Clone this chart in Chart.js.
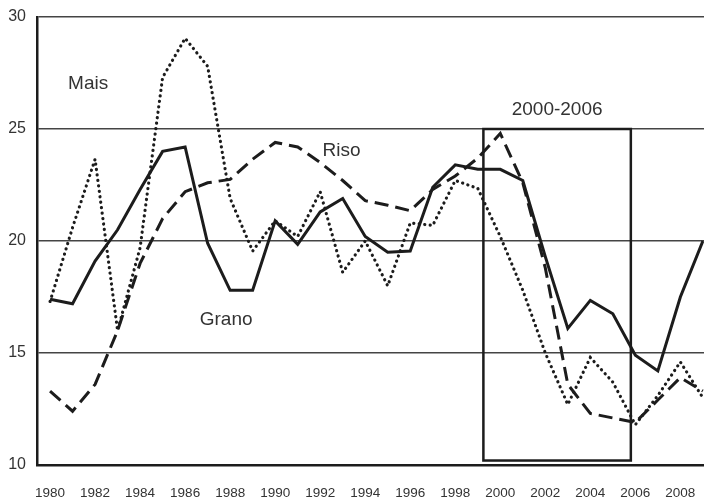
<!DOCTYPE html>
<html>
<head>
<meta charset="utf-8">
<script src="https://cdn.jsdelivr.net/npm/chart.js@4.4.0/dist/chart.umd.min.js"></script>
<style>
  html, body { margin: 0; padding: 0; background: #fff; }
  #wrap { width: 704px; height: 499px; }
</style>
</head>
<body>
<div id="wrap"><canvas id="prezzi"></canvas></div>
<script>
var years = [1980, 1981, 1982, 1983, 1984, 1985, 1986, 1987, 1988, 1989,
             1990, 1991, 1992, 1993, 1994, 1995, 1996, 1997, 1998, 1999,
             2000, 2001, 2002, 2003, 2004, 2005, 2006, 2007, 2008, 2009];
var grano = [17.4, 17.2, 19.1, 20.5, 22.3, 24.0, 24.2, 19.9, 17.8, 17.8,
             20.9, 19.85, 21.3, 21.9, 20.2, 19.5, 19.55, 22.4, 23.4, 23.2,
             23.2, 22.7, 19.3, 16.1, 17.35, 16.75, 14.9, 14.2, 17.5, 20.0];
var riso  = [13.3, 12.4, 13.6, 16.0, 19.0, 21.0, 22.2, 22.6, 22.75, 23.65,
             24.4, 24.2, 23.5, 22.7, 21.8, 21.6, 21.35, 22.3, 22.9, 23.7,
             24.8, 22.6, 18.8, 13.6, 12.3, 12.1, 11.9, 12.9, 13.9, 13.3];
var mais  = [17.3, 20.6, 23.65, 16.0, 19.7, 27.3, 29.05, 27.8, 21.9, 19.55,
             20.9, 20.2, 22.2, 18.6, 20.0, 18.0, 20.8, 20.7, 22.7, 22.35,
             20.2, 17.8, 15.0, 12.7, 14.8, 13.7, 11.8, 13.1, 14.6, 13.0];
var tickYears = [1980, 1982, 1984, 1986, 1988, 1990, 1992, 1994,
                 1996, 1998, 2000, 2002, 2004, 2006, 2008];
var yTicks = [10, 15, 20, 25, 30];

// periodo evidenziato e etichette delle serie (in unita' dei dati)
var periodo = { label: "2000-2006", x0: 1999.25, x1: 2005.8, y0: 10.2, y1: 25 };
var etichette = [
  { text: "Mais",  x: 1980.8,  y: 27.0 },
  { text: "Riso",  x: 1992.1,  y: 24.05 },
  { text: "Grano", x: 1986.65, y: 16.5 }
];

function punti(valori) {
  return years.map(function (a, i) { return { x: a, y: valori[i] }; });
}

var INK = "#1c1c1c";
var FONT = "'Liberation Sans', Arial, Helvetica, sans-serif";

var annotazioni = {
  id: "annotazioni",
  afterDatasetsDraw: function (chart) {
    var ctx = chart.ctx;
    var xs = chart.scales.x, ys = chart.scales.y;
    ctx.save();
    ctx.strokeStyle = INK;
    ctx.lineWidth = 2.5;
    var l = xs.getPixelForValue(periodo.x0), r = xs.getPixelForValue(periodo.x1);
    var t = ys.getPixelForValue(periodo.y1), b = ys.getPixelForValue(periodo.y0);
    ctx.strokeRect(l, t, r - l, b - t);
    ctx.fillStyle = "#333";
    ctx.font = "19px " + FONT;
    ctx.textAlign = "center";
    ctx.textBaseline = "middle";
    ctx.fillText(periodo.label, (l + r) / 2, ys.getPixelForValue(25.85));
    ctx.textAlign = "left";
    etichette.forEach(function (e) {
      ctx.fillText(e.text, xs.getPixelForValue(e.x), ys.getPixelForValue(e.y));
    });
    ctx.restore();
  }
};

var ctxP = document.getElementById("prezzi").getContext("2d");
var grafico = new Chart(ctxP, {
  type: "line",
  data: {
    datasets: [
      { label: "Grano", data: punti(grano), borderColor: INK, borderWidth: 3,
        pointRadius: 0, tension: 0, borderJoinStyle: "miter" },
      { label: "Riso", data: punti(riso), borderColor: INK, borderWidth: 3,
        borderDash: [14, 7], pointRadius: 0, tension: 0 },
      { label: "Mais", data: punti(mais), borderColor: INK, borderWidth: 3.2,
        borderDash: [0.1, 5.4], borderCapStyle: "round", pointRadius: 0, tension: 0 }
    ]
  },
  options: {
    responsive: true,
    maintainAspectRatio: false,
    animation: false,
    layout: { padding: { top: 17, right: 0, left: 0, bottom: 0 } },
    plugins: { legend: { display: false }, tooltip: { enabled: false } },
    scales: {
      x: {
        type: "linear",
        min: 1979.42,
        max: 2009.05,
        afterBuildTicks: function (s) { s.ticks = tickYears.map(function (v) { return { value: v }; }); },
        afterFit: function (s) { s.height = 34; s.paddingRight = 0; s.paddingLeft = 0; },
        grid: { display: false, drawTicks: false },
        border: { display: true, color: INK, width: 2.5 },
        ticks: { color: "#333", padding: 20, maxRotation: 0, autoSkip: false,
                 font: { family: FONT, size: 13.5 },
                 callback: function (v) { return String(v); } }
      },
      y: {
        min: 10,
        max: 30,
        afterBuildTicks: function (s) { s.ticks = yTicks.map(function (v) { return { value: v }; }); },
        afterFit: function (s) { s.width = 37; s.paddingTop = 0; s.paddingBottom = 0; },
        grid: { color: "#444", lineWidth: 1.6, drawTicks: false },
        border: { display: true, color: INK, width: 2.5 },
        ticks: { color: "#333", padding: 11, font: { family: FONT, size: 16 } }
      }
    }
  },
  plugins: [annotazioni]
});
</script>
</body>
</html>
